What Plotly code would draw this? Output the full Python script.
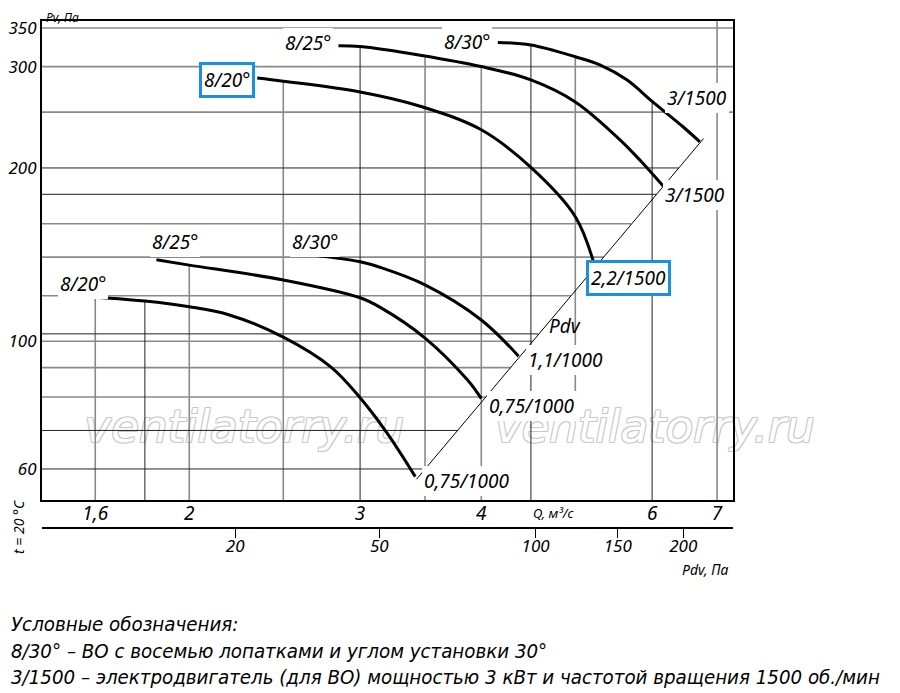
import math
import plotly.graph_objects as go

# ---- data --------------------------------------------------------------
# Q, m3/s (bottom axis) and Pv, Pa (left axis), both logarithmic
q_ticks = [1.6, 2, 3, 4, 6, 7]
q_ticktext = ["1,6", "2", "3", "4", "6", "7"]
pv_ticks = [350, 300, 200, 100, 60]
pv_ticktext = ["350", "300", "200", "100", "60"]

# Pdv scale under the chart: label and the Q it sits under
pdv_ticktext = ["20", "50", "100", "150", "200"]
pdv_at_q = [2.23, 3.14, 4.55, 5.53, 6.46]

# grid: vertical lines (Q) and where they start/stop in Pv
q_grid = [1.6, 1.8, 2, 2.5, 3, 3.5, 4, 4.5, 5, 6, 7]
q_grid_top = [119, 117.5, 135.6, 283, 325, 312, 300, 327, 312, 261, 360]
q_grid_bottom = [53, 53, 53, 53, 53, 53, 53, 53, 81, 53, 53]
q_grid_dark = [0, 1, 0, 0, 1, 0, 0, 1, 0, 1, 0]

# grid: horizontal lines (Pv) and the Q where they stop (at the Pdv line)
pv_grid = [350, 300, 250, 200, 180, 160, 140, 120, 103, 100, 90, 80, 70, 60]
pv_grid_end = [7.27, 7.27, 7.27, 6.39, 6.06, 5.71, 5.35, 4.95, 4.58, 4.52,
               4.29, 4.04, 3.78, 3.50]
pv_grid_dark = [0, 0, 0, 1, 1, 0, 0, 0, 1, 0, 0, 0, 1, 1]

# fan curves, 1000 rpm
q_1000_20 = [1.52, 1.6, 1.8, 2.0, 2.2, 2.5, 2.8, 3.0, 3.2, 3.42]
pv_1000_20 = [120, 119.3, 117.5, 114.8, 111.1, 101.7, 90.2, 79.8, 69.2, 58.2]
q_1000_25 = [1.85, 2.0, 2.5, 3.0, 3.15, 3.5, 3.87, 4.0]
pv_1000_25 = [138.5, 135.6, 127.8, 119, 114.4, 101.3, 85.7, 79.5]
q_1000_30 = [2.69, 3.0, 3.15, 3.5, 4.0, 4.37]
pv_1000_30 = [141, 137.4, 134.3, 125.3, 108.9, 94.2]

# fan curves, 1500 rpm
q_1500_20 = [2.35, 2.5, 3.0, 3.46, 4.0, 4.5, 5.0, 5.23]
pv_1500_20 = [286.7, 283, 271, 256, 233, 200.4, 164.6, 136]
q_1500_25 = [2.85, 3.0, 3.46, 4.0, 4.5, 5.0, 5.56, 5.85, 6.16]
pv_1500_25 = [326, 325, 314, 300, 284.5, 260.5, 223.8, 205, 186]
q_1500_30 = [4.16, 4.5, 5.0, 5.3, 5.65, 6.0, 6.46, 6.72]
pv_1500_30 = [330.5, 327, 312, 302, 284.5, 261, 235.6, 222]

# dynamic pressure line through the curve ends
pdv_line_q = [3.43, 6.78]
pdv_line_pv = [57.6, 225]

# watermark text spots (Q, Pv)
wm_q = [2.28, 6.04]
wm_pv = [70, 70]

curves = [
    (q_1000_20, pv_1000_20, "8/20°", "0,75/1000"),
    (q_1000_25, pv_1000_25, "8/25°", "0,75/1000"),
    (q_1000_30, pv_1000_30, "8/30°", "1,1/1000"),
    (q_1500_20, pv_1500_20, "8/20°", "2,2/1500"),
    (q_1500_25, pv_1500_25, "8/25°", "3/1500"),
    (q_1500_30, pv_1500_30, "8/30°", "3/1500"),
]

legend_lines = [
    "Условные обозначения:",
    "8/30° – ВО с восемью лопатками и углом установки 30°",
    "3/1500 – электродвигатель (для ВО) мощностью 3 кВт и частотой вращения 1500 об./мин",
]

# ---- figure -------------------------------------------------------------
Q_RANGE = [1.41, 7.27]
PV_RANGE = [53, 360]
FONT = "Noto Sans, Open Sans, DejaVu Sans"
NARROW = "Liberation Sans Narrow, DejaVu Sans Condensed, Liberation Sans"
BLUE = "#1b8fe0"


def px(x):
    # screen column -> paper x (plot area spans columns 42..733)
    return (x - 42) / 691


def py(y):
    # screen row -> paper y (paper spans rows 21..560)
    return (560 - y) / 539


def ifont(size, family=FONT):
    return dict(family=family, size=size, color="black", style="italic")


fig = go.Figure()

# watermark first so the grid and curves sit on top of it
fig.add_trace(go.Scatter(
    x=wm_q, y=wm_pv, mode="text", text=["ventilatorry.ru"] * 2,
    hoverinfo="skip", cliponaxis=False,
    textfont=dict(family="DejaVu Sans", size=45, color="white",
                  style="italic",
                  shadow="1px 1px 0 #c8c8c8, -1px -1px 0 #c8c8c8, "
                         "1px -1px 0 #c8c8c8, -1px 1px 0 #c8c8c8")))

# grid lines, split into grey and dark sets
for dark, color, width in [(0, "#8a8a8a", 1.6), (1, "#222222", 1)]:
    xs, ys = [], []
    for q, top, bot, d in zip(q_grid, q_grid_top, q_grid_bottom, q_grid_dark):
        if d == dark:
            xs += [q, q, None]
            ys += [bot, top, None]
    for pv, end, d in zip(pv_grid, pv_grid_end, pv_grid_dark):
        if d == dark:
            xs += [Q_RANGE[0], end, None]
            ys += [pv, pv, None]
    fig.add_trace(go.Scatter(x=xs, y=ys, mode="lines", hoverinfo="skip",
                             line=dict(color=color, width=width)))

fig.add_trace(go.Scatter(x=pdv_line_q, y=pdv_line_pv, mode="lines",
                         line=dict(color="black", width=1), hoverinfo="skip"))

for q, pv, blade, motor in curves:
    fig.add_trace(go.Scatter(x=q, y=pv, mode="lines",
                             line=dict(color="black", width=3, shape="spline",
                                       smoothing=1.0),
                             name=f"{blade} {motor}"))

# invisible trace so the Pdv axis is drawn
fig.add_trace(go.Scatter(x=[pdv_at_q[0]], y=[PV_RANGE[0]], xaxis="x2",
                         mode="markers", marker=dict(opacity=0),
                         hoverinfo="skip"))

lab = ifont(19)
ann = []

# blade-angle labels at curve starts: (xanchor, xshift, yshift, boxed)
start_pos = [("center", 9, 12, False), ("center", 19, 18, False),
             ("center", 1, 13, False), ("right", -2, -2, True),
             ("right", -5, 3, False), ("right", -6, 0, False)]
# motor labels at curve ends
end_pos = [("left", 7, -4, False), ("left", 6, -7, False),
           ("left", 7, -4, False), ("left", -8, -14, True),
           ("left", 0, -9, False), ("center", -3, 44, False)]

for (q, pv, blade, motor), sp, ep in zip(curves, start_pos, end_pos):
    for text, x, y, (xa, xs, ys, boxed) in [(blade, q[0], pv[0], sp),
                                             (motor, q[-1], pv[-1], ep)]:
        ann.append(dict(x=math.log10(x), y=math.log10(y), xref="x", yref="y",
                        text=text, showarrow=False, xanchor=xa, yanchor="middle",
                        xshift=xs, yshift=ys, font=lab, bgcolor="white",
                        bordercolor=BLUE if boxed else "rgba(0,0,0,0)",
                        borderwidth=3 if boxed else 0, borderpad=2))


def note(x, y, text, font, **kw):
    ann.append(dict(x=px(x), y=py(y), xref="paper", yref="paper", text=text,
                    showarrow=False, xanchor="center", yanchor="middle",
                    font=font, **kw))


note(565, 326, "Pdv", lab)
note(62, 17, "Pv, Па", ifont(12), borderpad=0)
note(553, 513, "Q, м³/с", ifont(13))
note(705, 569, "Pdv, Па", ifont(14))
note(18, 527, "t = 20 °C", ifont(14), textangle=-90)

for i, line in enumerate(legend_lines):
    ann.append(dict(x=px(9), y=py(624 + 26.5 * i), xref="paper", yref="paper",
                    text=line, showarrow=False, xanchor="left",
                    yanchor="middle", font=ifont(20.3, NARROW)))

axis_common = dict(type="log", showgrid=False, zeroline=False,
                   linecolor="black", linewidth=2, automargin=False)

# the page body adds an 8 px offset, so the figure is 8 px smaller than the
# window and the margins are shifted by the same amount
fig.update_layout(
    width=892, height=685,
    margin=dict(l=34, r=167, t=13, b=133),
    plot_bgcolor="white", paper_bgcolor="white",
    showlegend=False,
    annotations=ann,
    xaxis=dict(**axis_common, range=[math.log10(v) for v in Q_RANGE],
               showline=True, mirror=True, ticks="", ticklabelstandoff=-5,
               tickvals=q_ticks, ticktext=q_ticktext, tickfont=ifont(19)),
    xaxis2=dict(**axis_common, range=[math.log10(v) for v in Q_RANGE],
                overlaying="x", anchor="free", position=py(528),
                side="bottom", showline=True, ticks="outside", ticklen=9,
                tickwidth=1, tickcolor="black", ticklabelstandoff=-6,
                tickvals=pdv_at_q, ticktext=pdv_ticktext, tickfont=ifont(17)),
    yaxis=dict(**axis_common, range=[math.log10(v) for v in PV_RANGE],
               domain=[py(500), 1], showline=True, mirror=True, ticks="",
               ticklabelstandoff=0,
               tickvals=pv_ticks, ticktext=pv_ticktext, tickfont=ifont(17)),
)

fig.write_html("out.html")
